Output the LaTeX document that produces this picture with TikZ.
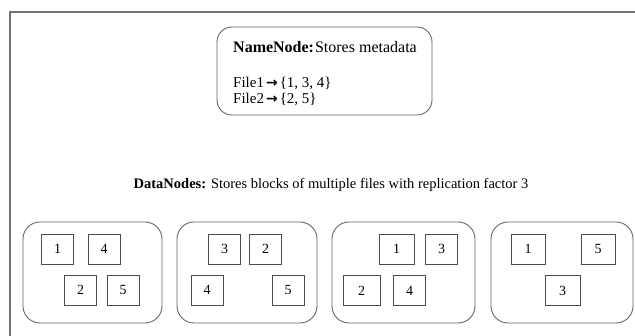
\documentclass[tikz,border=0pt]{standalone}
\usepackage{fontspec}
\setmainfont{Liberation Serif}
\newfontfamily\arrowfont{DejaVu Sans}
\newcommand{\bigarr}{{\arrowfont\bfseries\fontsize{14}{14}\selectfont →}}
\begin{document}
\begin{tikzpicture}[x=1pt,y=-1pt,
  frame/.style={draw=black!55,line width=1.4pt},
  namebox/.style={draw=black!60,line width=0.9pt,rounded corners=15pt},
  databox/.style={draw=black!60,line width=0.9pt,rounded corners=17pt},
  blk/.style={draw=black!70,line width=0.8pt,minimum width=32pt,minimum height=30pt,inner sep=0pt,font=\fontsize{14}{16}\selectfont},
  lbl/.style={font=\fontsize{14.5}{16}\selectfont,inner sep=0pt},
  nlbl/.style={font=\fontsize{16}{17}\selectfont,inner sep=0pt},
  flbl/.style={font=\fontsize{15}{15}\selectfont,inner sep=0pt}]
\useasboundingbox (0,0) rectangle (635,336);
% page frame: top edge and left edge
\draw[frame] (10,336) -- (10,12) -- (635,12);
% name node
\draw[namebox] (217,27) rectangle (432,115);
\node[nlbl,anchor=base west] (nn) at (233,53) {\textbf{NameNode:}\hspace{1pt}Stores metadata};
\node[flbl,anchor=base west] (f1) at (233,88) {File1\hspace{2pt}\bigarr\hspace{2pt}\{1, 3, 4\}};
\node[flbl,anchor=base west] (f2) at (233,104) {File2\hspace{2pt}\bigarr\hspace{2pt}\{2, 5\}};
% data nodes caption
\node[lbl,anchor=base] (dn) at (331,189) {\textbf{DataNodes:} Stores blocks of multiple files with replication factor 3};
% data node containers
\draw[databox] (23,222) rectangle (162,323);
\draw[databox] (177,222) rectangle (317,323);
\draw[databox] (332,222) rectangle (475,323);
\draw[databox] (491,222) rectangle (633,323);
% blocks held by each data node
\node[blk] (a1) at (57.5,249) {1};
\node[blk] (a4) at (104,249) {4};
\node[blk] (a2) at (80.5,290) {2};
\node[blk] (a5) at (123,290) {5};
\node[blk] (b3) at (224.5,249) {3};
\node[blk] (b2) at (265.5,249) {2};
\node[blk] (b4) at (207,290) {4};
\node[blk] (b5) at (288,290) {5};
\node[blk,minimum width=35pt] (c1) at (396.5,249) {1};
\node[blk] (c3) at (441.5,249) {3};
\node[blk,minimum width=37pt] (c2) at (361.5,290.5) {2};
\node[blk] (c4) at (409.5,290.5) {4};
\node[blk,minimum width=34pt] (d1) at (528,249) {1};
\node[blk,minimum width=34pt] (d5) at (598,249) {5};
\node[blk,minimum width=35pt] (d3) at (562.5,290.5) {3};
\end{tikzpicture}
\end{document}
